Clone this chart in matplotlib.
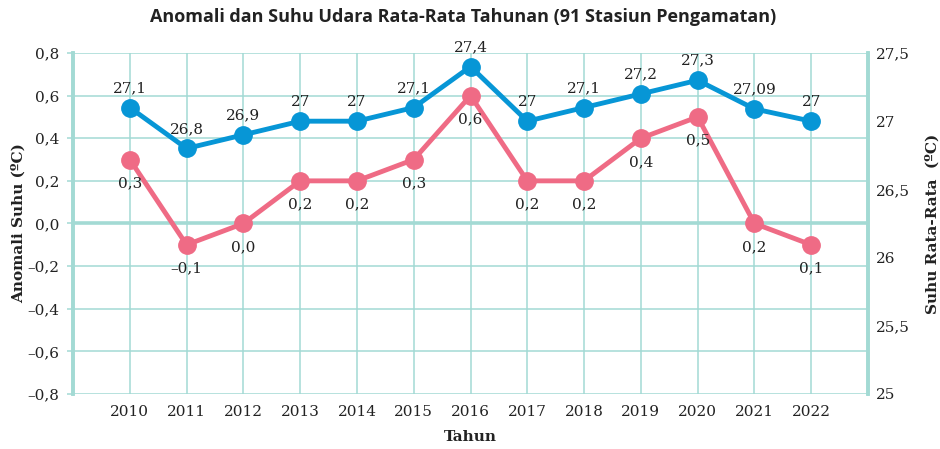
import numpy as np
import matplotlib
matplotlib.use("Agg")
import matplotlib.pyplot as plt
from matplotlib.ticker import FuncFormatter

# data per tahun
tahun = [2010, 2011, 2012, 2013, 2014, 2015, 2016, 2017, 2018, 2019, 2020, 2021, 2022]
anomali = [0.3, -0.1, 0.0, 0.2, 0.2, 0.3, 0.6, 0.2, 0.2, 0.4, 0.5, 0.0, -0.1]
label_anomali = ["0,3", "–0,1", "0,0", "0,2", "0,2", "0,3", "0,6", "0,2", "0,2", "0,4", "0,5", "0,2", "0,1"]
suhu = [27.1, 26.8, 26.9, 27.0, 27.0, 27.1, 27.4, 27.0, 27.1, 27.2, 27.3, 27.09, 27.0]

biru = "#0796d6"
merah = "#ef6b85"
hijau = "#a3dad4"
teks = "#222222"
serif = "DejaVu Serif"


def koma(v, pos=None):
    if abs(v) < 1e-9:
        v = 0.0
    return f"{v:.1f}".replace(".", ",").replace("-", "–")


def koma_kanan(v, pos=None):
    return f"{v:g}".replace(".", ",")


fig = plt.figure(figsize=(9.4, 4.49), dpi=100)
ax = fig.add_axes([0.0777, 0.1225, 0.8457, 0.7595])
ax2 = ax.twinx()

ax.set_xlim(2009, 2023)
ax.set_ylim(-0.8, 0.8)
ax2.set_ylim(25, 27.5)

# grid
ax.set_xticks(tahun)
ax.set_yticks(np.arange(-0.8, 0.81, 0.2))
ax.grid(True, color=hijau, linewidth=1.1, zorder=0)
ax.axhline(0, color=hijau, linewidth=2.6, zorder=1)
ax2.set_yticks([25, 25.5, 26, 26.5, 27, 27.5])

for a in (ax, ax2):
    for s in ("top", "bottom"):
        a.spines[s].set_visible(False)
    for s in ("left", "right"):
        a.spines[s].set_color(hijau)
        a.spines[s].set_linewidth(2.6)
    a.tick_params(axis="both", length=0, labelsize=11, labelcolor=teks, pad=6)
    for lab in a.get_xticklabels() + a.get_yticklabels():
        lab.set_family(serif)
ax.tick_params(axis="y", length=4, color=hijau, width=1.1)
ax.yaxis.set_major_formatter(FuncFormatter(koma))
ax2.yaxis.set_major_formatter(FuncFormatter(koma_kanan))
ax.tick_params(axis="x", pad=8)

# garis anomali (sumbu kiri)
ax.plot(tahun, anomali, color=merah, linewidth=3.5, marker="o", markersize=12.5, zorder=3, clip_on=False)
for x, y, t in zip(tahun, anomali, label_anomali):
    ax.annotate(t, (x, y), xytext=(0, -12), textcoords="offset points",
                ha="center", va="top", fontsize=11, family=serif, color=teks)

# garis suhu rata-rata (sumbu kanan)
ax2.plot(tahun, suhu, color=biru, linewidth=3.5, marker="o", markersize=12.5, zorder=3, clip_on=False)
for x, y in zip(tahun, suhu):
    ax2.annotate(koma_kanan(y), (x, y), xytext=(0, 9), textcoords="offset points",
                 ha="center", va="bottom", fontsize=11, family=serif, color=teks)

ax.set_xlabel("Tahun", family=serif, fontweight="bold", fontsize=11, color=teks, labelpad=8)
ax.set_ylabel("Anomali Suhu (ºC)", family=serif, fontweight="bold", fontsize=11, color=teks, labelpad=1)
ax2.set_ylabel("Suhu Rata-Rata  (ºC)", family=serif, fontweight="bold", fontsize=11, color=teks, labelpad=11)

fig.text(0.493, 0.962, "Anomali dan Suhu Udara Rata-Rata Tahunan (91 Stasiun Pengamatan)",
         ha="center", va="center", fontsize=13, fontweight="bold", family="Open Sans", color=teks)

fig.savefig("out.png", dpi=100)
